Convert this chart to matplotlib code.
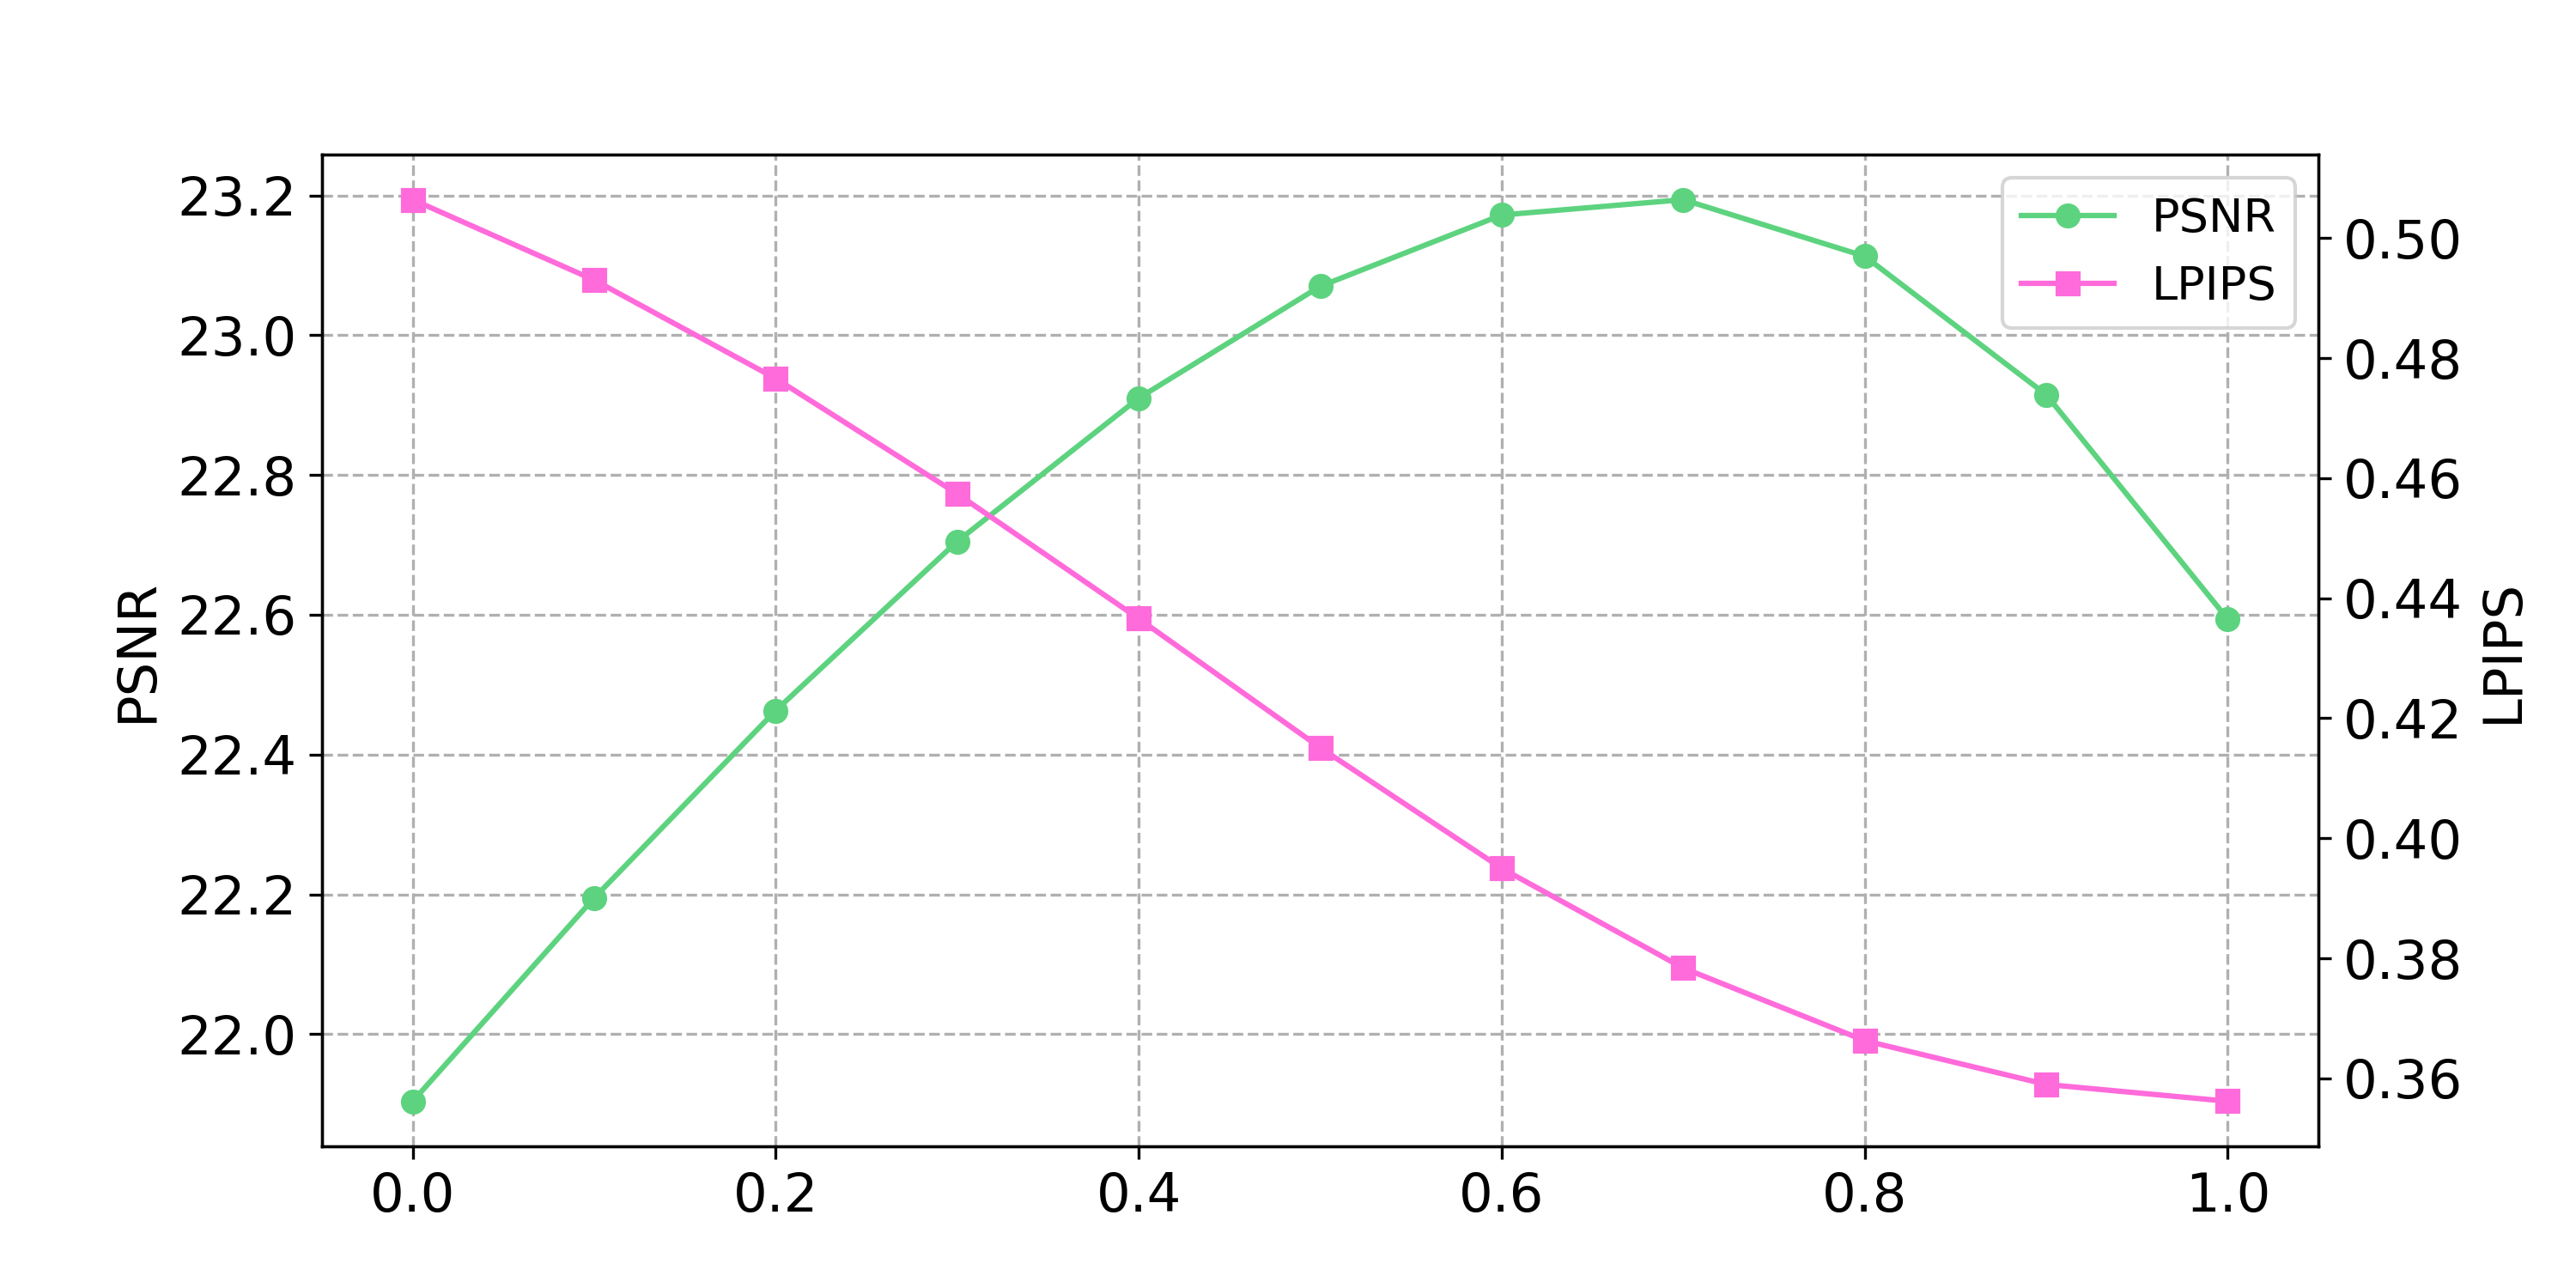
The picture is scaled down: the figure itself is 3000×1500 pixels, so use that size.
import matplotlib
matplotlib.use("Agg")
import matplotlib.pyplot as plt

# blend weight on the x axis
alpha = [0.0, 0.1, 0.2, 0.3, 0.4, 0.5, 0.6, 0.7, 0.8, 0.9, 1.0]
psnr = [21.904, 22.195, 22.463, 22.705, 22.910, 23.070, 23.172, 23.194, 23.113, 22.915, 22.594]
lpips = [0.5064, 0.4930, 0.4766, 0.4574, 0.4366, 0.4151, 0.3950, 0.3784, 0.3663, 0.3590, 0.3562]

GREEN = "#5DD37F"
PINK = "#FF6BDB"

fig, ax1 = plt.subplots(figsize=(10, 5), dpi=300)
ax2 = ax1.twinx()

l1, = ax1.plot(alpha, psnr, color=GREEN, marker="o", label="PSNR")
l2, = ax2.plot(alpha, lpips, color=PINK, marker="s", label="LPIPS")

ax1.set_ylabel("PSNR", fontsize=15)
ax2.set_ylabel("LPIPS", fontsize=15)
ax1.tick_params(labelsize=15)
ax2.tick_params(labelsize=15)
ax1.grid(True, linestyle="--")

ax2.legend([l1, l2], ["PSNR", "LPIPS"], loc="upper right", fontsize=13)

fig.savefig("out.png", dpi=300)
